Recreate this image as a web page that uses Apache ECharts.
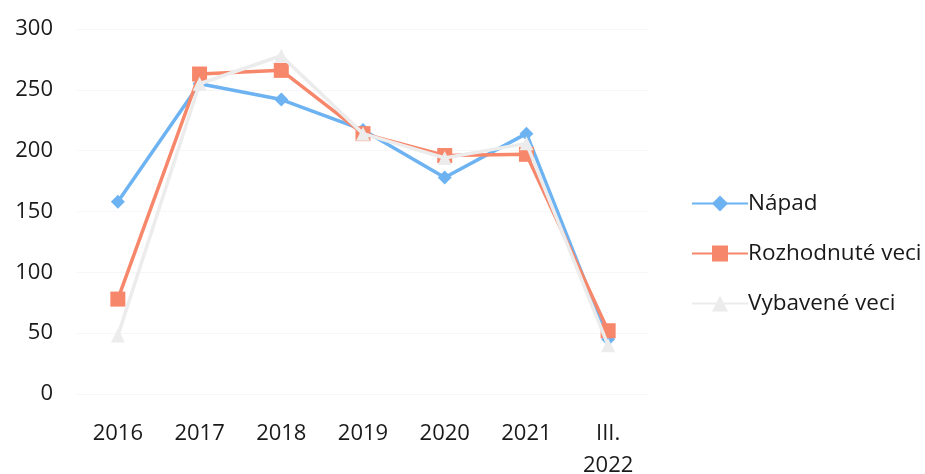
<!DOCTYPE html>
<html><head><meta charset="utf-8">
<script src="https://cdn.jsdelivr.net/npm/echarts@6/dist/echarts.min.js"></script>
<style>html,body{margin:0;padding:0;background:#fff}#c{width:925px;height:474px}</style>
</head><body><div id="c"></div>
<script>
var categories = ['2016','2017','2018','2019','2020','2021','III.\n2022'];
var napad = [158, 255, 242, 217, 178, 214, 45];
var rozhodnute = [78, 263, 266, 214, 196, 197, 52];
var vybavene = [48, 255, 278, 214, 194, 206, 40];
var yTicks = [0, 50, 100, 150, 200, 250, 300];
var seriesNames = ['Nápad', 'Rozhodnuté veci', 'Vybavené veci'];

var font = 'Open Sans';
var chart = echarts.init(document.getElementById('c'));
chart.setOption({
  animation: false,
  backgroundColor: '#fff',
  grid: {left: 77, right: 276, top: 29, bottom: 80, containLabel: false, outerBoundsMode: 'none'},
  legend: {
    orient: 'vertical', left: 686, top: 187, itemGap: 27,
    itemWidth: 56, itemHeight: 20,
    textStyle: {fontFamily: font, fontSize: 22.5, color: '#1a1a1a', padding: [0,0,0,-5]},
    data: seriesNames
  },
  xAxis: {
    type: 'category', data: categories, boundaryGap: true,
    axisLine: {show: false}, axisTick: {show: false},
    axisLabel: {fontFamily: font, fontSize: 22, color: '#1a1a1a', margin: 24, lineHeight: 32, interval: 0}
  },
  yAxis: {
    type: 'value', min: yTicks[0], max: yTicks[yTicks.length-1], interval: 50,
    axisLine: {show: false}, axisTick: {show: false},
    splitLine: {lineStyle: {color: '#f7f7f7'}},
    axisLabel: {fontFamily: font, fontSize: 22, color: '#1a1a1a', margin: 24}
  },
  series: [
    {name: seriesNames[0], type: 'line', data: napad, symbol: 'diamond', symbolSize: 14,
     lineStyle: {width: 3.5, color: '#6db3f2'}, itemStyle: {color: '#6db3f2'}, z: 3},
    {name: seriesNames[1], type: 'line', data: rozhodnute, symbol: 'rect', symbolSize: 15,
     lineStyle: {width: 3.5, color: '#f7876a'}, itemStyle: {color: '#f7876a'}, z: 4},
    {name: seriesNames[2], type: 'line', data: vybavene, symbol: 'triangle', symbolSize: 14,
     lineStyle: {width: 3.5, color: '#ececec'}, itemStyle: {color: '#ececec'}, z: 5}
  ]
});
</script></body></html>
